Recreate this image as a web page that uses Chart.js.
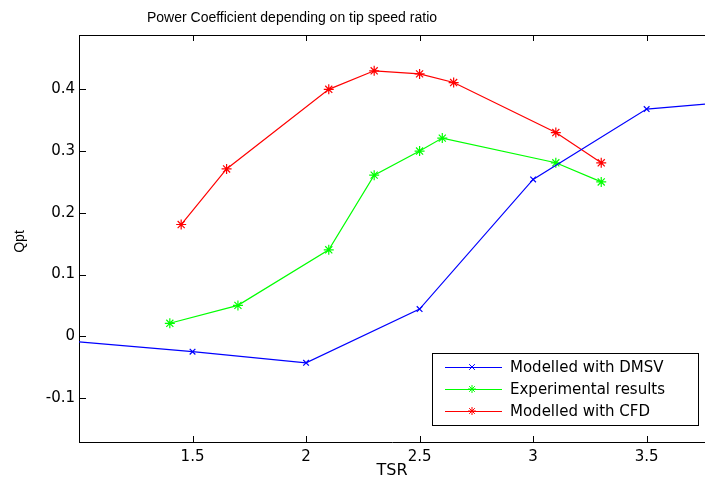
<!DOCTYPE html>
<html>
<head>
<meta charset="utf-8">
<script src="https://cdn.jsdelivr.net/npm/chart.js@4"></script>
<style>
  body { margin: 0; background: #fff; }
  canvas { display: block; }
</style>
</head>
<body>
<canvas id="cpChart" width="705" height="481"></canvas>
<script>
// === Data ===
const xTicks = [1.5, 2, 2.5, 3, 3.5];
const yTicks = [-0.1, 0, 0.1, 0.2, 0.3, 0.4];

const dmsvTsr = [1.0, 1.5, 2.0, 2.5, 3.0, 3.5, 3.757];
const dmsvCp = [-0.009, -0.025, -0.043, 0.044, 0.254, 0.368, 0.376];

const expTsr = [1.4, 1.7, 2.1, 2.3, 2.5, 2.6, 3.1, 3.3];
const expCp = [0.021, 0.05, 0.14, 0.261, 0.3, 0.321, 0.281, 0.25];

const cfdTsr = [1.45, 1.65, 2.1, 2.3, 2.5, 2.65, 3.1, 3.3];
const cfdCp = [0.181, 0.271, 0.4, 0.43, 0.425, 0.411, 0.33, 0.281];

const seriesLabels = ["Modelled with DMSV", "Experimental results", "Modelled with CFD"];

const pts = (xs, ys) => xs.map((x, i) => ({ x: x, y: ys[i] }));

// blue line runs past both axis edges, no marker shown there
const edgeRadius = (n) => (c) => (c.dataIndex === 0 || c.dataIndex === n - 1) ? 0 : 4;

// === Frame, inward ticks, titles and legend ===
const framePlugin = {
  id: "frame",
  afterDraw(chart) {
    const { ctx, chartArea: a, scales } = chart;
    ctx.save();
    ctx.strokeStyle = "#000";
    ctx.lineWidth = 1;
    ctx.beginPath();
    ctx.moveTo(a.left, a.top + 0.5);
    ctx.lineTo(a.right, a.top + 0.5);
    xTicks.forEach(v => {
      const px = Math.round(scales.x.getPixelForValue(v)) + 0.5;
      ctx.moveTo(px, a.bottom);
      ctx.lineTo(px, a.bottom - 6);
      ctx.moveTo(px, a.top);
      ctx.lineTo(px, a.top + 6);
    });
    yTicks.forEach(v => {
      const py = Math.round(scales.y.getPixelForValue(v)) + 0.5;
      ctx.moveTo(a.left, py);
      ctx.lineTo(a.left + 7, py);
    });
    ctx.stroke();

    // title and axis labels
    ctx.fillStyle = "#000";
    ctx.textAlign = "center";
    ctx.textBaseline = "middle";
    ctx.font = "14px 'Liberation Sans', Arial, sans-serif";
    ctx.fillText("Power Coefficient depending on tip speed ratio", 292, 18);
    ctx.font = "16px 'DejaVu Sans', sans-serif";
    ctx.fillText("TSR", (a.left + a.right) / 2, 471);
    ctx.save();
    ctx.translate(20, (a.top + a.bottom) / 2 + 3);
    ctx.rotate(-Math.PI / 2);
    ctx.font = "14px 'Liberation Sans', Arial, sans-serif";
    ctx.fillText("Qpt", 0, 0);
    ctx.restore();

    // legend box in the lower right corner
    const bw = 266, bh = 72;
    const bx = a.right - 7 - bw, by = a.bottom - 17 - bh;
    ctx.fillStyle = "#fff";
    ctx.fillRect(bx, by, bw, bh);
    ctx.strokeStyle = "#000";
    ctx.strokeRect(bx + 0.5, by + 0.5, bw, bh);
    ctx.font = "15px 'DejaVu Sans', sans-serif";
    ctx.textAlign = "left";
    chart.data.datasets.forEach((ds, i) => {
      const y = by + 14 + i * 22;
      ctx.strokeStyle = ds.borderColor;
      ctx.beginPath();
      ctx.moveTo(bx + 13, y + 0.5);
      ctx.lineTo(bx + 70, y + 0.5);
      ctx.stroke();
      Chart.helpers.drawPoint(ctx, { pointStyle: ds.pointStyle, radius: 4, rotation: 0, borderWidth: 1 }, bx + 40, y);
      ctx.fillStyle = "#000";
      ctx.fillText(ds.label, bx + 78, y + 1);
    });
    ctx.restore();
  }
};

const ctx = document.getElementById("cpChart").getContext("2d");
const chart = new Chart(ctx, {
  type: "line",
  data: {
    datasets: [{
      label: seriesLabels[0],
      data: pts(dmsvTsr, dmsvCp),
      borderColor: "#0000ff",
      backgroundColor: "#0000ff",
      borderWidth: 1.2,
      pointStyle: "crossRot",
      pointRadius: edgeRadius(dmsvTsr.length),
      pointBorderWidth: 1.2,
      tension: 0
    }, {
      label: seriesLabels[1],
      data: pts(expTsr, expCp),
      borderColor: "#00ff00",
      backgroundColor: "#00ff00",
      borderWidth: 1.2,
      pointStyle: "star",
      pointRadius: 5,
      pointBorderWidth: 1.2,
      tension: 0
    }, {
      label: seriesLabels[2],
      data: pts(cfdTsr, cfdCp),
      borderColor: "#ff0000",
      backgroundColor: "#ff0000",
      borderWidth: 1.2,
      pointStyle: "star",
      pointRadius: 5,
      pointBorderWidth: 1.2,
      tension: 0
    }]
  },
  options: {
    responsive: false,
    animation: false,
    layout: { autoPadding: false, padding: { top: 35, right: 0, left: 0, bottom: 0 } },
    plugins: {
      legend: { display: false },
      title: { display: false },
      tooltip: { enabled: false }
    },
    scales: {
      x: {
        type: "linear",
        min: 1.0,
        max: 3.757,
        afterBuildTicks: (s) => { s.ticks = xTicks.map(v => ({ value: v })); },
        afterFit: (s) => { s.height = 39; s.paddingLeft = 0; s.paddingRight = 0; },
        grid: { display: false, drawTicks: false },
        border: { display: true, color: "#000", width: 1 },
        ticks: {
          color: "#000",
          padding: 6,
          maxRotation: 0,
          font: { family: "'DejaVu Sans', sans-serif", size: 15 },
          callback: (v) => String(v)
        }
      },
      y: {
        type: "linear",
        min: -0.1713,
        max: 0.488,
        afterBuildTicks: (s) => { s.ticks = yTicks.map(v => ({ value: v })); },
        afterFit: (s) => { s.width = 79; s.paddingTop = 0; s.paddingBottom = 0; },
        grid: { display: false, drawTicks: false },
        border: { display: true, color: "#000", width: 1 },
        ticks: {
          color: "#000",
          padding: 4,
          font: { family: "'DejaVu Sans', sans-serif", size: 15 },
          callback: (v) => String(Math.round(v * 10) / 10)
        }
      }
    }
  },
  plugins: [framePlugin]
});
</script>
</body>
</html>
